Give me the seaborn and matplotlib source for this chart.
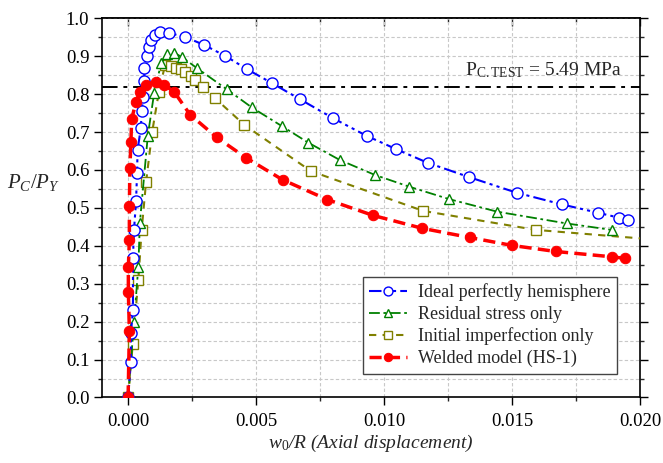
import matplotlib
matplotlib.use("Agg")
import matplotlib.pyplot as plt
import seaborn as sns
import pandas as pd
import numpy as np
from matplotlib.ticker import MultipleLocator, FormatStrFormatter

# ---------------- data ----------------
ideal_x = [0.0, 0.00011, 0.00011, 0.00019, 0.00019, 0.00023, 0.00031, 0.00035, 0.00037,
           0.00050, 0.00053, 0.00059, 0.00063, 0.00064, 0.00073, 0.00080, 0.00091, 0.00107,
           0.00125, 0.00161, 0.00222, 0.00296, 0.00379, 0.00464, 0.00562, 0.00673, 0.00802,
           0.00932, 0.01047, 0.01170, 0.01333, 0.01518, 0.01696, 0.01837, 0.01919, 0.01954]
ideal_y = [0.0, 0.094, 0.170, 0.231, 0.368, 0.441, 0.517, 0.591, 0.653,
           0.711, 0.756, 0.792, 0.835, 0.869, 0.901, 0.924, 0.943, 0.956,
           0.963, 0.961, 0.951, 0.930, 0.901, 0.866, 0.829, 0.786, 0.736,
           0.690, 0.655, 0.619, 0.581, 0.540, 0.509, 0.487, 0.474, 0.468]

resid_x = [0.0, 0.00023, 0.00040, 0.00046, 0.00077, 0.00102, 0.00129, 0.00151, 0.00180,
           0.00212, 0.00268, 0.00385, 0.00483, 0.00600, 0.00704, 0.00828, 0.00964,
           0.01098, 0.01255, 0.01442, 0.01713, 0.01889]
resid_y = [0.0, 0.198, 0.345, 0.461, 0.690, 0.804, 0.881, 0.906, 0.909,
           0.897, 0.869, 0.813, 0.765, 0.716, 0.672, 0.626, 0.587,
           0.556, 0.523, 0.490, 0.459, 0.442]

imperf_x = [0.0, 0.00018, 0.00040, 0.00053, 0.00070, 0.00094, 0.00120, 0.00144, 0.00166,
            0.00187, 0.00205, 0.00224, 0.00244, 0.00263, 0.00292, 0.00340, 0.00454,
            0.00714, 0.01153, 0.01593, 0.02030]
imperf_y = [0.0, 0.140, 0.310, 0.442, 0.567, 0.700, 0.805, 0.876, 0.875,
            0.870, 0.865, 0.859, 0.849, 0.837, 0.820, 0.789, 0.719,
            0.597, 0.492, 0.442, 0.418]

weld_x = [0.0, 0.00005, 0.00001, 0.00001, 0.00005, 0.00005, 0.00007, 0.00011, 0.00014,
          0.00031, 0.00046, 0.00069, 0.00108, 0.00141, 0.00180, 0.00242, 0.00346,
          0.00461, 0.00604, 0.00778, 0.00958, 0.01150, 0.01334, 0.01500, 0.01671,
          0.01890, 0.01941]
weld_y = [0.0, 0.175, 0.279, 0.343, 0.415, 0.505, 0.604, 0.675, 0.734,
          0.780, 0.806, 0.824, 0.833, 0.824, 0.806, 0.746, 0.686,
          0.632, 0.574, 0.522, 0.480, 0.446, 0.422, 0.401, 0.385,
          0.371, 0.367]

test_level = 0.818
test_label = r"P$_{\mathrm{C.TEST}}$ = 5.49 MPa"

names = ["Ideal perfectly hemisphere", "Residual stress only",
         "Initial imperfection only", "Welded model (HS-1)"]

# ---------------- style ----------------
sns.set_theme(style="ticks")
plt.rcParams["font.family"] = ["Liberation Serif", "DejaVu Serif"]
plt.rcParams["mathtext.fontset"] = "custom"
plt.rcParams["mathtext.rm"] = "Liberation Serif"
plt.rcParams["mathtext.it"] = "Liberation Serif:italic"
plt.rcParams["mathtext.bf"] = "Liberation Serif:bold"

fig = plt.figure(figsize=(6.63, 4.63), dpi=100)
ax = fig.add_axes([0.1546, 0.1415, 0.8107, 0.8190])

df_ideal = pd.DataFrame({"x": ideal_x, "y": ideal_y})
df_resid = pd.DataFrame({"x": resid_x, "y": resid_y})
df_imp = pd.DataFrame({"x": imperf_x, "y": imperf_y})
df_weld = pd.DataFrame({"x": weld_x, "y": weld_y})

common = dict(x="x", y="y", ax=ax, sort=False, estimator=None)

sns.lineplot(data=df_imp, color="#808000", lw=1.5, marker="s", ms=6.5,
             mfc="white", mec="#808000", mew=1.0, zorder=3, **common)
l_imp = ax.lines[-1]
l_imp.set_dashes((3.5, 3))

sns.lineplot(data=df_resid, color="#008000", lw=1.3, marker="^", ms=7.5,
             mfc="white", mec="#008000", mew=1.0, zorder=4, **common)
l_res = ax.lines[-1]
l_res.set_dashes((6, 2, 1.5, 2))

sns.lineplot(data=df_ideal, color="#0000FF", lw=1.5, marker="o", ms=8,
             mfc="white", mec="#0000FF", mew=1.0, zorder=5, **common)
l_ide = ax.lines[-1]
l_ide.set_dashes((6, 2, 1.5, 2, 1.5, 2))

sns.lineplot(data=df_weld, color="#FF0000", lw=2.5, marker="o", ms=7.5,
             mfc="#FF0000", mec="#FF0000", zorder=6, **common)
l_wel = ax.lines[-1]
l_wel.set_dashes((3.5, 1.8))

ax.axhline(test_level, color="black", lw=1.4, dashes=(8, 3, 2, 3), zorder=2)
ax.text(0.674, 0.864, test_label, transform=ax.transAxes, fontsize=14,
        ha="left", va="center")

# axes
ax.set_xlim(-0.001, 0.020)
ax.set_ylim(0.0, 1.0)
ax.xaxis.set_major_locator(MultipleLocator(0.005))
ax.xaxis.set_minor_locator(MultipleLocator(0.0025))
ax.xaxis.set_major_formatter(FormatStrFormatter("%.3f"))
ax.yaxis.set_major_locator(MultipleLocator(0.1))
ax.yaxis.set_minor_locator(MultipleLocator(0.05))
ax.yaxis.set_major_formatter(FormatStrFormatter("%.1f"))

ax.grid(True, which="both", color="#c8c8c8", linestyle=(0, (3, 2)), lw=0.8, zorder=0)
ax.set_axisbelow(True)

ax.tick_params(axis="both", which="major", direction="out", length=6, width=1.0,
               labelsize=13.5, color="black", labelcolor="black", right=True)
ax.tick_params(axis="both", which="minor", direction="out", length=3, width=1.0,
               right=True)
ax.tick_params(axis="x", pad=5)

top = ax.secondary_xaxis("top")
top.xaxis.set_major_locator(MultipleLocator(0.005))
top.xaxis.set_minor_locator(MultipleLocator(0.0025))
top.tick_params(which="major", direction="in", length=6, width=1.0, labeltop=False)
top.tick_params(which="minor", direction="in", length=3, width=1.0)
top.spines["top"].set_linewidth(1.2)

for s in ax.spines.values():
    s.set_linewidth(1.2)
    s.set_color("black")
    s.set_visible(True)

ax.set_xlabel(r"$w_{\mathit{0}}$/R (Axial displacement)", fontsize=14, fontstyle="italic",
              labelpad=2)
ax.set_ylabel(r"$P_C/P_Y$", fontsize=15, rotation=0, ha="center", va="center")
ax.yaxis.set_label_coords(-0.128, 0.566)

handles = [l_ide, l_res, l_imp, l_wel]
leg = ax.legend(handles, names, loc="upper left", bbox_to_anchor=(0.484, 0.317),
                borderaxespad=0, fontsize=13, frameon=True, fancybox=False,
                edgecolor="#444444", framealpha=1, handlelength=2.1,
                handletextpad=0.6, labelspacing=0.25, borderpad=0.35,
                markerscale=0.8)
leg.get_frame().set_linewidth(1.0)

fig.savefig("out.png", dpi=100)
